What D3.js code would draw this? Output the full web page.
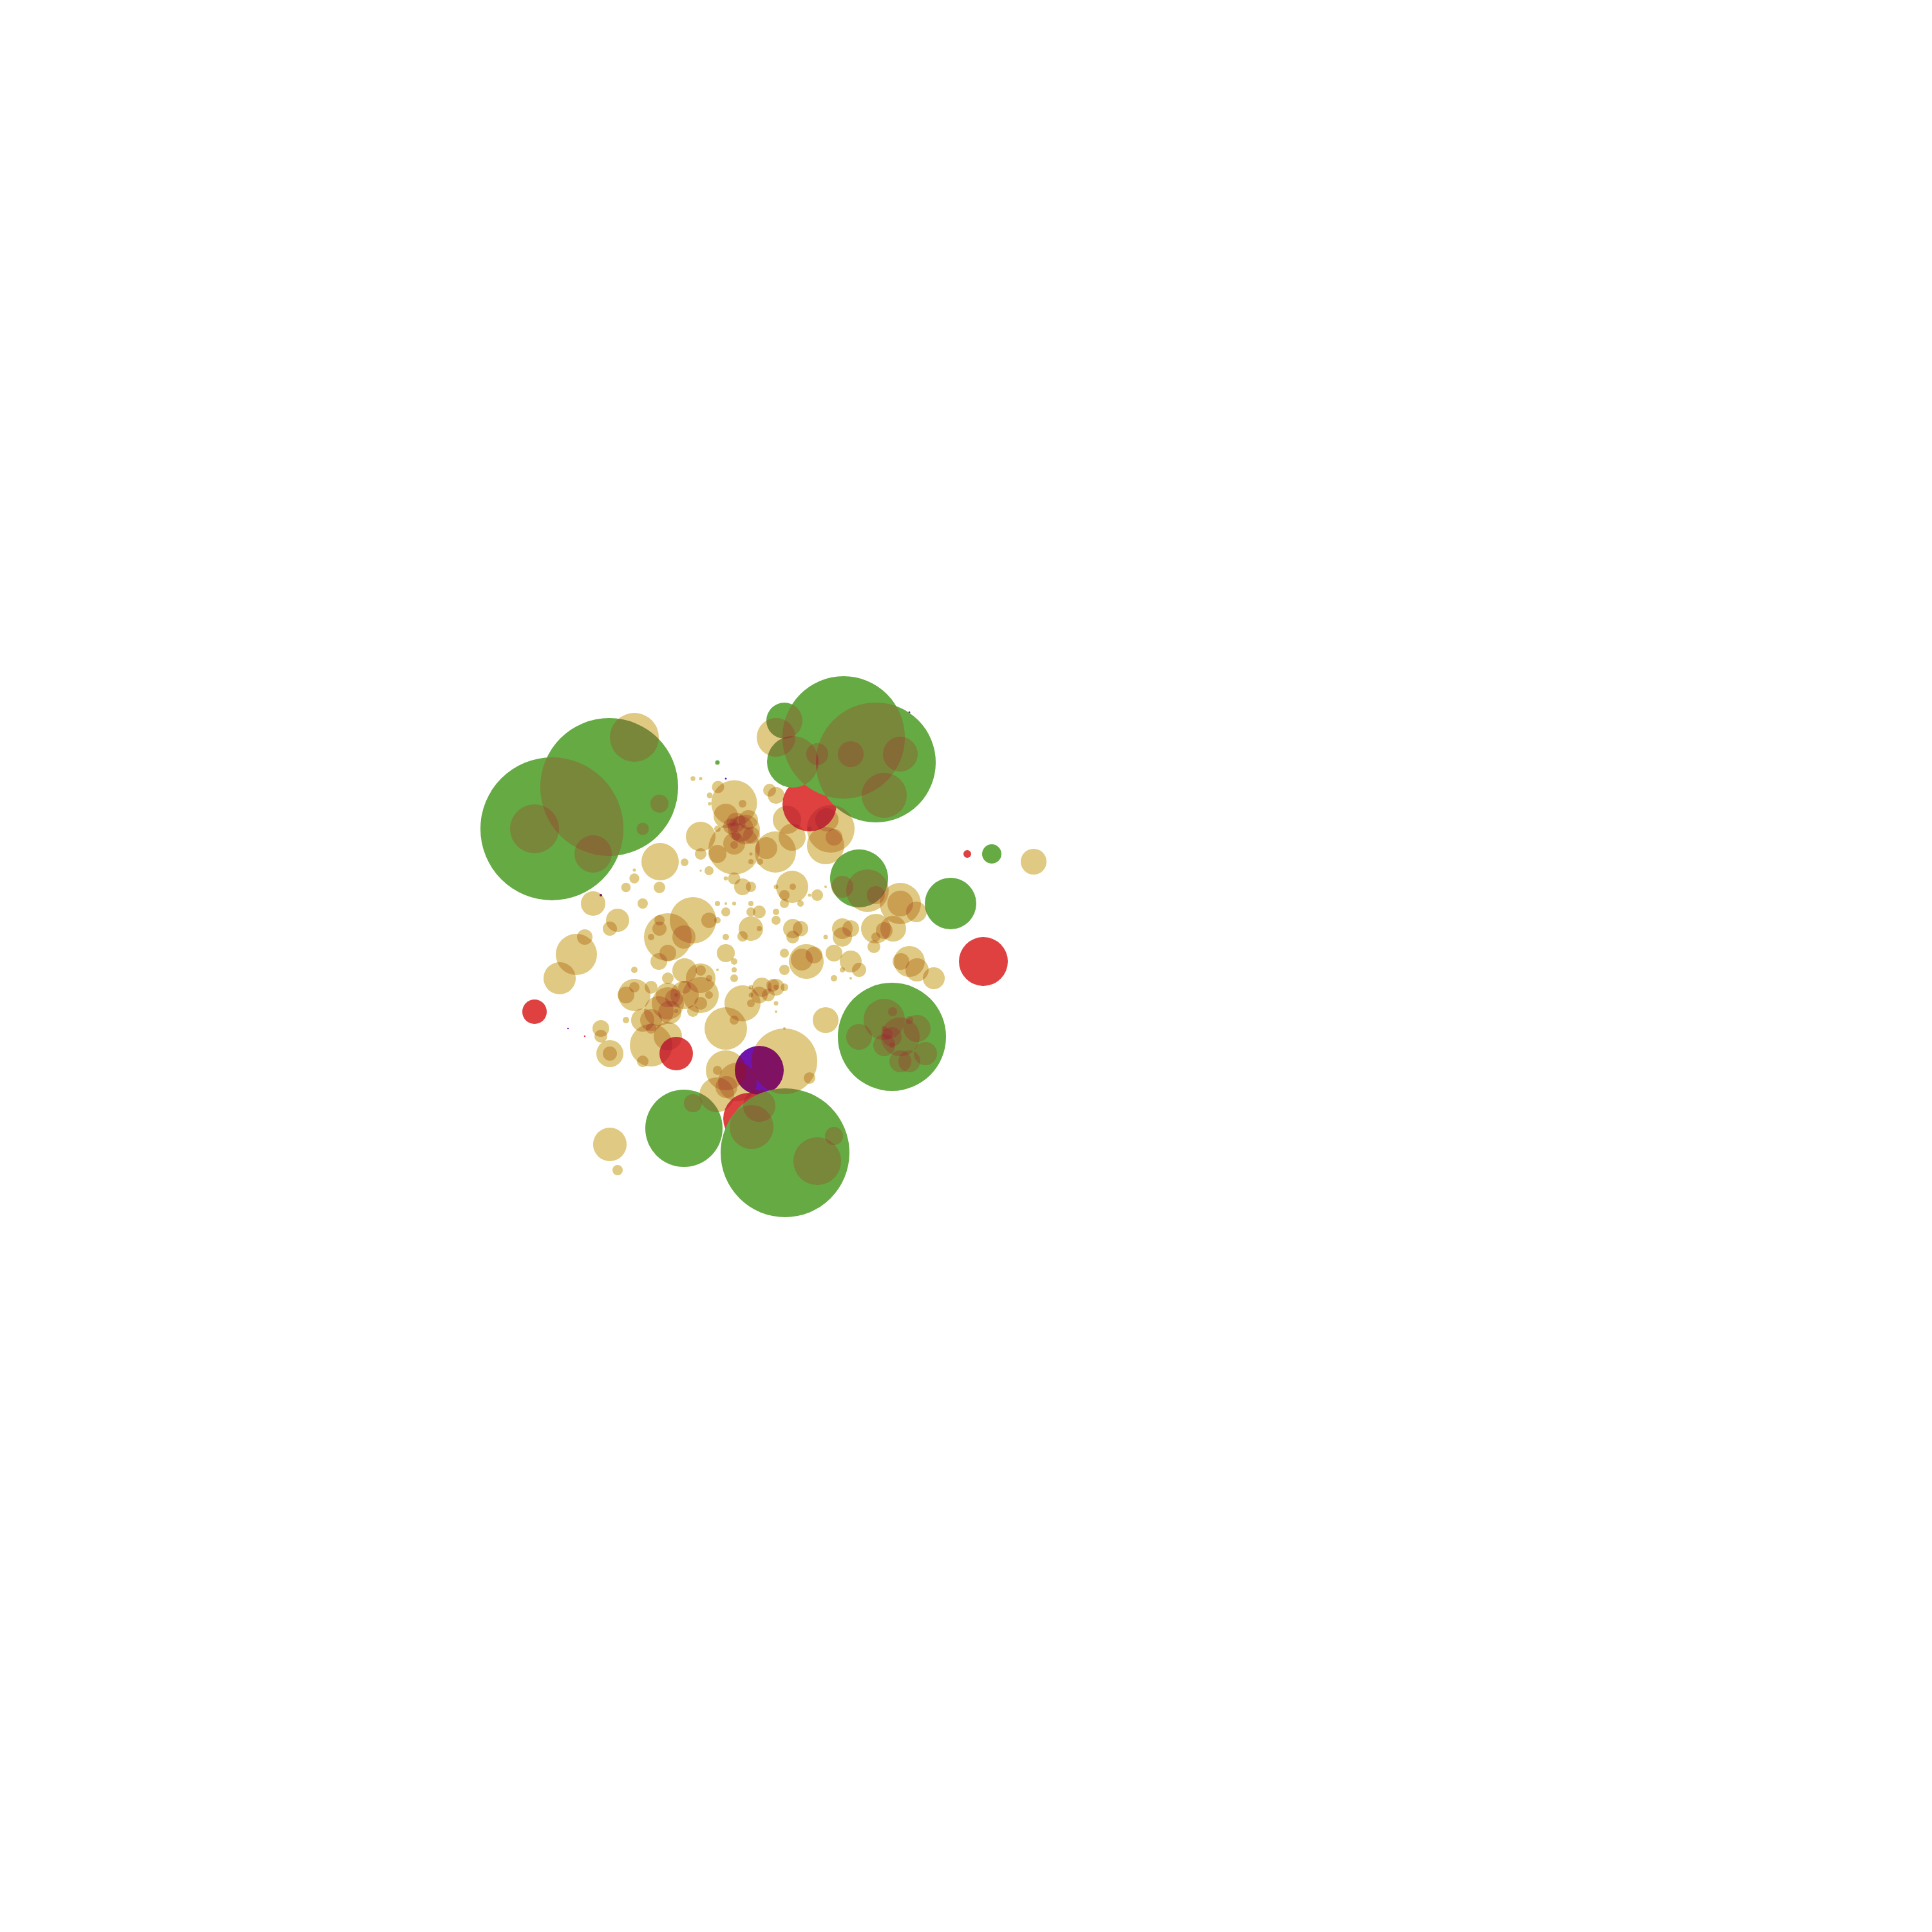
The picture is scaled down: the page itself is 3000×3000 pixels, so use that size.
<!DOCTYPE html>
<html><head><meta charset="utf-8">
<script src="https://cdn.jsdelivr.net/npm/d3@7"></script>
<style>html,body{margin:0;padding:0;background:#fff}</style>
</head><body>
<script>
// values: [x, y, size] in plot units
const greenBubbles = [[85.7,128.7,11.1],[94.6,122.2,10.7],[111.4,118.4,0.35],[131.0,114.5,9.5],[136.0,118.4,9.3],[121.8,111.9,2.8],[123.1,118.3,4.0],[133.4,136.4,4.5],[147.6,140.3,4.0],[154.0,132.6,1.5],[106.2,175.2,6.0],[121.9,179.0,10.0],[138.5,161.0,8.4]];
const redBubbles = [[125.7,124.9,4.2],[150.2,132.6,0.6],[152.7,149.3,3.8],[83.0,157.1,1.9],[105.0,163.6,2.6],[116.3,173.7,4.0],[90.8,160.9,0.13]];
const purpleBubbles = [[117.9,166.2,3.8],[93.3,139.0,0.2],[112.7,120.9,0.15],[88.2,159.7,0.12],[141.2,110.6,0.15]];
const tanBubbles = [
[98.5,114.5,3.8],[83.0,128.7,3.8],[92.1,132.6,2.9],[102.4,124.8,1.4],[99.8,128.7,0.95],[107.6,120.9,0.37],[108.8,120.9,0.25],[111.5,122.2,0.95],[110.2,123.5,0.45],[110.2,124.8,0.27],[114.0,124.7,3.55],[115.3,124.8,0.6],[112.7,126.7,1.9],[114.3,127.7,1.5],[116.2,127.3,1.5],[115.7,128.8,2.3],[115.0,128.7,2.0],[113.5,128.3,1.2],[116.7,129.7,1.3],[119.0,131.7,1.7],[114.0,131.0,1.7],[114.0,131.2,0.6],[111.4,128.7,0.5],[114.3,129.8,0.7],[114.0,131.8,4.0],[108.8,129.9,2.3],[108.8,132.6,0.9],[111.4,132.6,1.4],[120.4,132.3,3.2],[118.0,133.8,0.5],[116.6,133.8,0.4],[116.6,132.6,0.25],[102.5,133.8,2.9],[102.4,137.8,0.9],[106.3,133.9,0.6],[98.5,135.1,0.25],[98.5,136.4,0.77],[97.2,137.8,0.73],[110.1,135.2,0.7],[108.8,135.2,0.17],[114.0,136.4,0.95],[115.3,137.7,1.3],[116.6,137.7,0.8],[112.7,136.4,0.33],[92.1,140.3,1.9],[95.9,142.9,1.8],[94.7,144.2,1.1],[99.8,140.3,0.8],[107.6,142.9,3.6],[110.1,142.9,1.2],[111.4,142.9,0.5],[103.7,145.5,3.7],[102.4,142.9,0.8],[102.4,144.2,1.1],[106.2,145.5,1.8],[101.1,145.5,0.5],[111.4,140.3,0.4],[112.7,140.3,0.2],[114.0,140.3,0.3],[112.7,141.6,0.7],[116.6,140.3,0.4],[116.6,141.6,0.7],[117.9,141.6,1.0],[116.6,144.2,1.9],[117.9,144.2,0.4],[115.3,145.4,0.8],[112.7,145.5,0.5],[89.5,148.2,3.2],[86.9,151.9,2.5],[90.8,145.5,1.2],
[120.5,114.5,3.0],[126.9,117.1,1.7],[132.1,117.1,2.0],[139.8,117.1,2.7],[137.3,123.5,3.5],[120.5,123.5,1.3],[119.5,122.7,1.0],[122.2,127.3,2.2],[123.0,130.0,2.1],[129.0,128.7,3.7],[128.2,131.3,2.9],[129.5,130.0,1.3],[128.4,127.3,1.8],[125.7,128.7,0.35],[130.8,137.7,1.7],[134.7,138.3,3.3],[136.0,139.0,1.4],[139.8,140.3,3.2],[139.8,140.3,2.0],[142.3,141.6,1.6],[160.5,133.8,2.0],[123.0,137.7,2.5],[121.8,139.0,0.8],[123.1,137.7,0.5],[120.5,137.7,0.35],[121.8,140.3,0.7],[124.3,140.3,0.5],[126.9,139.0,0.9],[125.7,139.0,0.25],[128.2,137.7,0.2],[120.5,141.6,0.5],[120.5,142.9,0.7],[123.1,144.2,1.5],[124.3,144.2,1.2],[123.1,145.5,1.0],[130.8,144.2,1.6],[132.1,144.2,1.3],[130.8,145.5,1.5],[136.0,144.2,2.3],[137.3,144.5,1.3],[136.0,145.5,0.7],[138.7,144.2,2.0],[128.2,145.5,0.35],
[93.3,159.7,1.3],[93.3,160.9,1.0],[94.7,163.6,2.1],[94.7,163.6,1.1],[98.5,150.6,0.5],[97.2,158.4,0.5],[98.5,154.5,2.5],[97.2,154.5,1.3],[98.5,153.3,0.8],[101.1,153.3,1.0],[103.7,155.8,2.5],[103.7,154.5,1.9],[104.7,155.0,1.4],[104.0,157.2,1.8],[105.0,154.5,0.3],[105.0,157.0,0.3],[106.3,154.5,2.2],[106.3,153.3,1.0],[107.6,157.0,0.9],[108.8,151.9,2.3],[108.8,150.7,0.8],[110.1,151.9,0.5],[108.8,154.5,2.8],[108.8,155.8,1.0],[110.1,154.5,0.6],[106.3,150.7,1.9],[103.7,151.9,0.9],[102.3,149.3,1.3],[103.7,148.0,1.3],[99.8,158.4,1.8],[101.1,158.4,1.7],[102.3,157.0,2.3],[101.1,159.7,0.8],[101.1,162.3,3.3],[103.7,160.9,2.2],[99.8,164.8,0.9],[112.7,159.7,3.3],[114.0,158.4,0.7],[115.3,155.8,2.8],[117.9,154.5,1.3],[116.6,153.3,0.35],[116.6,154.5,0.35],[116.6,155.8,0.6],[112.7,148.0,1.4],[114.0,149.3,0.5],[114.0,150.6,0.4],[114.0,151.9,0.6],[111.4,150.6,0.2],[118.3,153.3,1.5],[112.7,166.2,3.1],[111.4,166.2,0.7],[114.5,168.0,3.0],[112.8,168.8,1.7],[111.3,170.0,2.7],[121.8,164.8,5.1],[116.7,175.0,3.4],[117.9,171.7,2.5],[107.6,171.3,1.4],[94.7,177.7,2.6],[95.9,181.7,0.8],[126.9,180.3,3.7],[129.5,176.4,1.4],
[141.2,149.3,2.4],[139.9,149.3,1.3],[142.4,150.6,1.8],[145.0,151.9,1.7],[125.2,149.3,2.7],[124.5,149.0,1.7],[126.4,148.3,1.3],[121.8,148.0,0.7],[121.8,150.6,0.8],[129.5,148.0,1.3],[132.1,149.3,1.7],[133.4,150.6,1.1],[130.8,150.6,0.4],[129.5,151.9,0.5],[132.1,151.9,0.2],[135.7,147.0,1.0],[120.5,153.3,1.3],[120.0,153.0,1.0],[121.8,153.3,0.6],[120.5,153.3,0.4],[119.3,154.5,1.0],[120.5,155.8,0.35],[120.5,157.1,0.2],[128.2,158.4,2.0],[137.3,158.3,3.2],[133.4,161.0,2.0],[139.8,161.0,3.0],[142.4,159.7,2.1],[143.7,163.6,1.8],[137.3,162.3,1.7],[138.5,161.0,1.5],[137.8,160.5,0.8],[139.8,164.8,1.7],[141.2,164.8,1.7],[138.6,157.1,0.7],[141.2,158.4,0.6],[137.3,159.7,0.4],[138.5,162.3,0.4],[125.7,167.4,0.9],[121.8,159.7,0.2]
];

const W = 3000, H = 3000;
const x = d3.scaleLinear().domain([0, 300]).range([0, W]);
const y = d3.scaleLinear().domain([0, 300]).range([0, H]);
const r = d3.scaleLinear().domain([0, 30]).range([0, 300]);

const svg = d3.select("body").append("svg").attr("width", W).attr("height", H);
svg.append("rect").attr("width", W).attr("height", H).attr("fill", "#fff");
const defs = svg.append("defs");

const TAN_MUL = "rgb(222,254,128)", TAN_TOP = "rgb(232,14,141)", TAN_TOP_OP = 0.22;

function place(sel) {
  return sel.attr("cx", d => x(d[0])).attr("cy", d => y(d[1])).attr("r", d => r(d[2]));
}

svg.selectAll("circle.red").data(redBubbles).join("circle").attr("class", "red").call(place).attr("fill", "#df4141");
svg.selectAll("circle.purple").data(purpleBubbles).join("circle").attr("class", "purple").call(place).attr("fill", "#7014b0");
svg.selectAll("circle.green").data(greenBubbles).join("circle").attr("class", "green").call(place).attr("fill", "#66aa44");

// overlaps between green bubbles render like a tan layer
greenBubbles.forEach((d, i) => {
  defs.append("clipPath").attr("id", "gclip" + i).append("circle").datum(d).call(place);
});
const pairs = [];
greenBubbles.forEach((a, i) => greenBubbles.forEach((b, j) => {
  if (j > i && Math.hypot(a[0]-b[0], a[1]-b[1]) < a[2] + b[2]) pairs.push({i, d: b});
}));
pairs.forEach(p => {
  svg.append("circle").datum(p.d).call(place).attr("clip-path", `url(#gclip${p.i})`)
    .attr("fill", TAN_MUL).style("mix-blend-mode", "multiply");
  svg.append("circle").datum(p.d).call(place).attr("clip-path", `url(#gclip${p.i})`)
    .attr("fill", TAN_TOP).attr("fill-opacity", TAN_TOP_OP);
});

tanBubbles.forEach(d => {
  svg.append("circle").datum(d).call(place).attr("fill", TAN_MUL).style("mix-blend-mode", "multiply");
  svg.append("circle").datum(d).call(place).attr("fill", TAN_TOP).attr("fill-opacity", TAN_TOP_OP);
});
</script>
</body></html>
